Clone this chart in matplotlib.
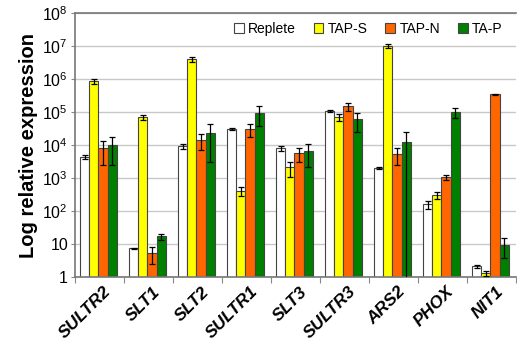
import matplotlib
matplotlib.use("Agg")
import matplotlib.pyplot as plt
import numpy as np

plt.rcParams['font.family'] = ['Liberation Sans', 'DejaVu Sans']
plt.rcParams['mathtext.fontset'] = 'custom'
plt.rcParams['mathtext.rm'] = 'Liberation Sans'
plt.rcParams['mathtext.default'] = 'regular'

genes = ["SULTR2", "SLT1", "SLT2", "SULTR1", "SLT3", "SULTR3", "ARS2", "PHOX", "NIT1"]
series = ["Replete", "TAP-S", "TAP-N", "TA-P"]
colors = ["white", "#ffff00", "#ff6600", "#008000"]

replete = [4.4e3, 7.5, 9.3e3, 3.0e4, 8.0e3, 1.1e5, 2.0e3, 160, 2.1]
tap_s = [8.7e5, 7.0e4, 3.9e6, 400, 2.1e3, 7.0e4, 1.0e7, 300, 1.3]
tap_n = [8.0e3, 5.3, 1.4e4, 3.0e4, 5.6e3, 1.5e5, 5.4e3, 1.07e3, 3.4e5]
ta_p = [1.0e4, 17, 2.3e4, 9.3e4, 6.6e3, 6.0e4, 1.2e4, 1.0e5, 9.3]

replete_err = [700, 0.2, 1.5e3, 2.0e3, 1.2e3, 8e3, 150, 45, 0.2]
tap_s_err = [1.5e5, 1.2e4, 6e5, 120, 1.0e3, 1.5e4, 1.2e6, 70, 0.25]
tap_n_err = [5.5e3, 2.8, 7e3, 1.2e4, 2.5e3, 4e4, 3e3, 200, 2e4]
ta_p_err = [7.5e3, 3.5, 2.0e4, 5.5e4, 4.5e3, 3.5e4, 1.2e4, 3.5e4, 5.5]

values = [replete, tap_s, tap_n, ta_p]
errors = [replete_err, tap_s_err, tap_n_err, ta_p_err]

fig = plt.figure(figsize=(5.17, 3.42), dpi=100)
ax = fig.add_axes([0.145, 0.19, 0.853, 0.772])
ax.set_yscale('log')

x = np.arange(len(genes)) + 0.5
w = 0.19
for k, (vals, errs) in enumerate(zip(values, errors)):
    ax.bar(x + (k - 1.5) * w - 0.02, vals, w, color=colors[k],
           edgecolor='#444444', linewidth=0.8, label=series[k], zorder=2)
    ax.errorbar(x + (k - 1.5) * w - 0.02, vals, yerr=errs, fmt='none',
                ecolor='black', elinewidth=0.9, capsize=2.5, capthick=0.9, zorder=3)

ax.set_ylim(1, 1e8)
ax.set_xlim(0, len(genes))
yt = [10.0 ** i for i in range(9)]
ax.set_yticks(yt)
ax.set_yticklabels(['1', '10'] + ['10$^{%d}$' % i for i in range(2, 9)], fontsize=11.5)
ax.yaxis.set_minor_locator(matplotlib.ticker.NullLocator())
ax.grid(axis='y', color='#c8c8c8', linewidth=1, zorder=0)

ax.set_xticks(np.arange(len(genes) + 1))
ax.set_xticklabels([])
ax.set_xticks(x + 0.08, minor=True)
ax.set_xticklabels(genes, minor=True, rotation=45, ha='right', rotation_mode='anchor',
                   fontsize=12.5, fontweight='bold', fontstyle='italic')
ax.tick_params(axis='x', which='minor', length=0, pad=5)
ax.tick_params(axis='x', which='major', length=4, color='#888888', direction='out')
ax.tick_params(axis='y', length=3, color='#888888', pad=2)

for s in ['left', 'bottom', 'top']:
    ax.spines[s].set_color('#777777')
    ax.spines[s].set_linewidth(1.2)
ax.spines['right'].set_visible(False)

ax.set_ylabel('Log relative expression', fontsize=14.5, fontweight='bold', labelpad=3)

ax.legend(loc='upper right', ncol=4, frameon=False, fontsize=10, handlelength=0.7,
          handleheight=0.7, handletextpad=0.3, columnspacing=1.3,
          borderaxespad=0.25, bbox_to_anchor=(0.99, 1.0))

fig.savefig('out.png', dpi=100)
